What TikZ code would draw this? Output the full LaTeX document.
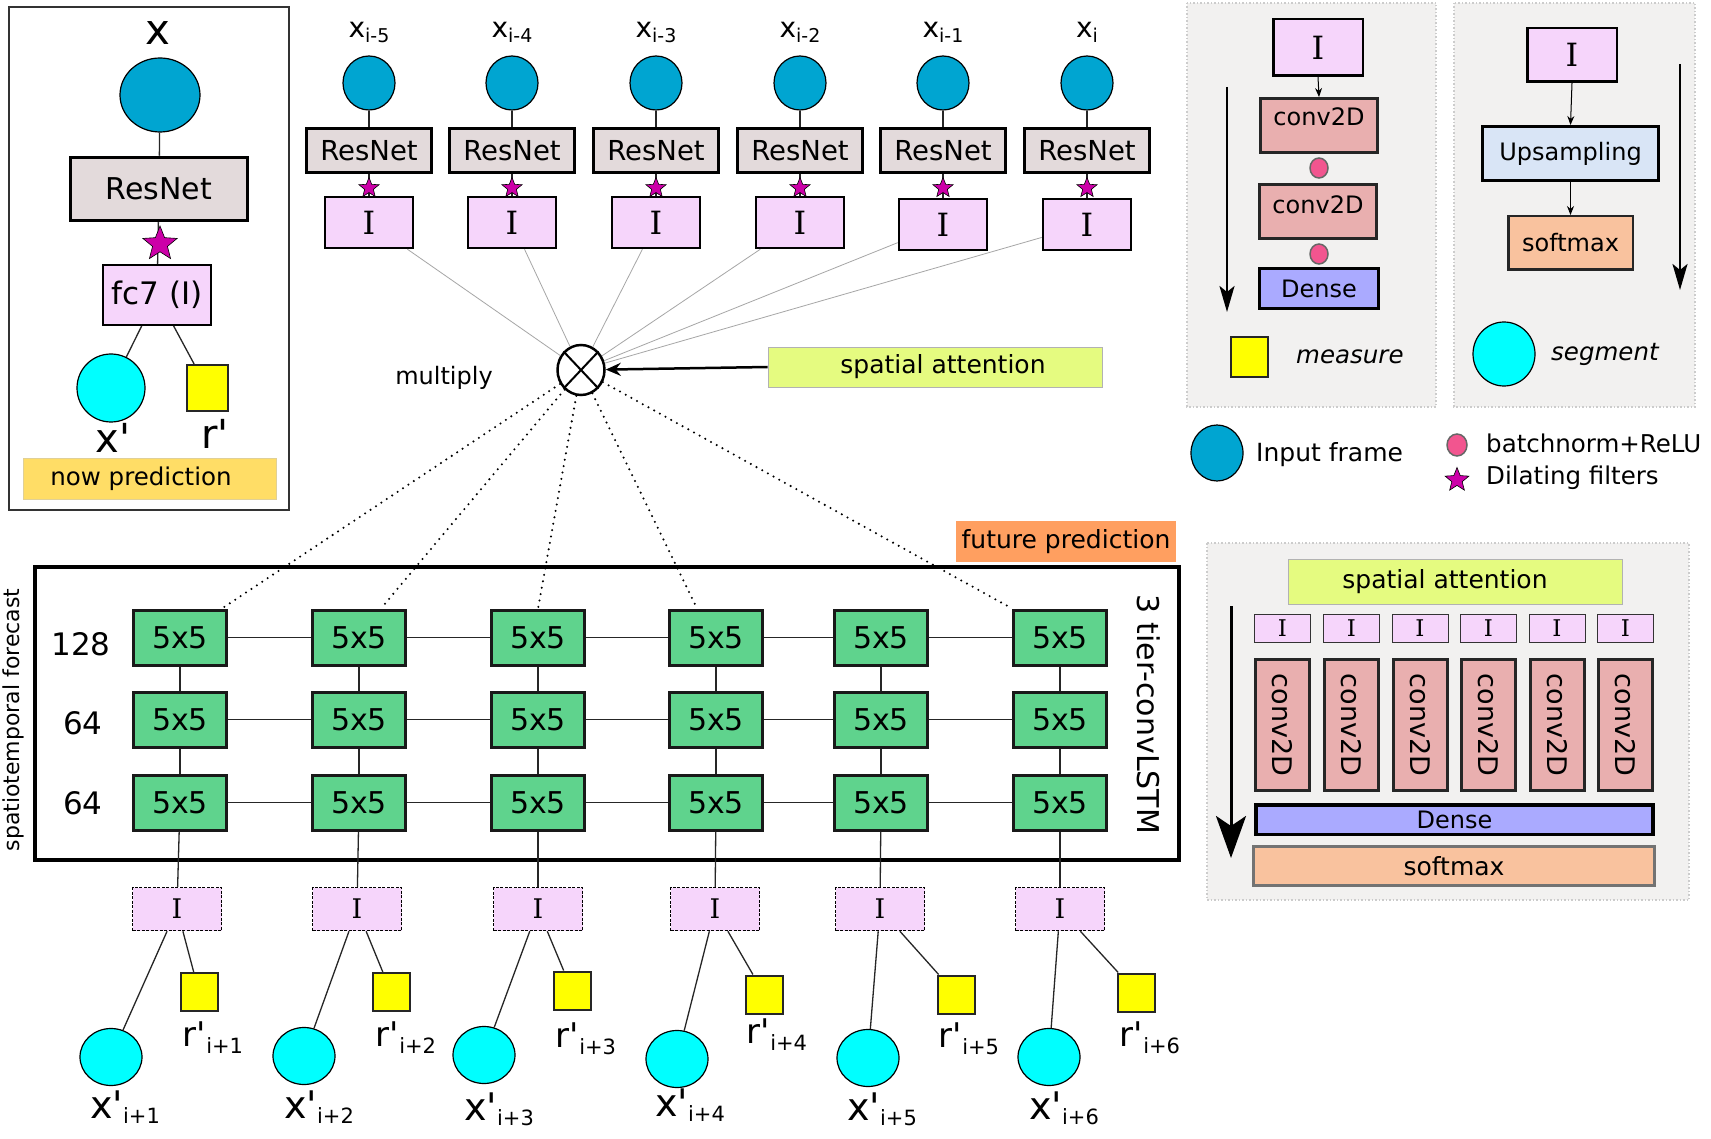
\documentclass[tikz,border=0pt]{standalone}
\usepackage{fontspec}
\newfontfamily\dv{DejaVu Sans}
\newfontfamily\dvs{DejaVu Serif}
\usetikzlibrary{shapes.geometric,arrows.meta,calc}
\newcommand{\fs}[1]{\fontsize{#1}{#1}\selectfont}
\newcommand{\upt}[1]{\raisebox{0pt}[0pt][0pt]{#1}}
\definecolor{inblue}{HTML}{00A5D1}
\definecolor{cyanc}{RGB}{0,255,255}
\definecolor{yellowc}{RGB}{255,255,0}
\definecolor{resgray}{HTML}{E3DADB}
\definecolor{ipink}{HTML}{F6D5FB}
\definecolor{starmag}{HTML}{CC00A8}
\definecolor{nowgold}{HTML}{FFDD66}
\definecolor{sagreen}{HTML}{E5FB80}
\definecolor{futorange}{HTML}{FF9F60}
\definecolor{green5}{HTML}{5FD38D}
\definecolor{convpink}{HTML}{E9AFAF}
\definecolor{densebl}{HTML}{AAAAFF}
\definecolor{upblue}{HTML}{D9E5F6}
\definecolor{softpeach}{HTML}{F9C29E}
\definecolor{dotpink}{HTML}{F2558F}
\definecolor{panelbg}{HTML}{F2F1F0}
\begin{document}
\begin{tikzpicture}[x=1pt,y=-1pt,font=\dv,
  inframe/.style={ellipse,draw=black,line width=1.2pt,fill=inblue,minimum width=52pt,minimum height=54pt,inner sep=0},
  resnet/.style={draw=black,line width=3pt,fill=resgray,minimum width=125pt,minimum height=44pt,inner sep=0,font=\dv\fs{27.5}},
  ibox/.style={draw=black,line width=2.5pt,fill=ipink,minimum width=88pt,minimum height=51pt,inner sep=0,font=\dvs\fs{32}},
  starn/.style={star,star points=5,star point ratio=2.3,fill=starmag,draw=black,line width=0.6pt,minimum size=21pt,inner sep=0},
  grn/.style={draw=black!90,line width=3pt,fill=green5,minimum width=93pt,minimum height=55pt,inner sep=0,font=\dv\fs{30}},
  dI/.style={draw=black,dash pattern=on 3pt off 1.5pt,line width=1.5pt,fill=ipink,minimum width=89pt,minimum height=43pt,inner sep=0,font=\dvs\fs{27}},
  cyn/.style={ellipse,draw=black,line width=1.2pt,fill=cyanc,minimum width=62pt,minimum height=57pt,inner sep=0},
  ysq/.style={draw=black!85,line width=2pt,fill=yellowc,minimum width=37pt,minimum height=38pt,inner sep=0},
  conn/.style={line width=1.3pt,draw=black!85},
  gline/.style={line width=0.8pt,draw=black!35},
  dotline/.style={line width=2.3pt,dash pattern=on 0pt off 6.5pt,line cap=round},
  toplab/.style={anchor=base,inner sep=0,font=\dv\fs{28}},
  botlab/.style={anchor=base,inner sep=0,font=\dv\fs{38}},
  panel/.style={fill=panelbg,draw=black!20,line width=1.5pt,dotted},
  conv/.style={draw=black!85,line width=3pt,fill=convpink,inner sep=0,font=\dv\fs{24}},
  dense/.style={draw=black,line width=3pt,fill=densebl,inner sep=0,font=\dv\fs{24}},
  soft/.style={draw=black!85,line width=2.5pt,fill=softpeach,inner sep=0,font=\dv\fs{24}},
  pdot/.style={ellipse,draw=black!60,line width=1.5pt,fill=dotpink,minimum width=18pt,minimum height=20pt,inner sep=0},
  smallarr/.style={line width=1pt,-{Stealth[length=9pt,width=7pt]}},
  bigarr/.style={line width=2.5pt,-{Stealth[length=26pt,width=15pt,inset=6pt]}},
  legtext/.style={anchor=west,inner sep=0,font=\dv\fs{24.5}}
]
\useasboundingbox (0,0) rectangle (1711,1139);
\fill[white] (0,0) rectangle (1711,1139);

% ---------------- left "now prediction" panel
\draw[line width=1.5pt,draw=black!80] (9,7) rectangle (289,510);
\node[anchor=base,inner sep=0,font=\dv\fs{42}] (bX) at (158,45) {x};
\node[inframe,minimum width=80pt,minimum height=74pt] (bx) at (160,95) {};
\node[resnet,minimum width=177pt,minimum height=63pt,line width=3.5pt,font=\dv\fs{30}] (brn) at (159,189) {ResNet};
\node[draw=black,line width=2pt,fill=ipink,minimum width=108pt,minimum height=60pt,inner sep=0,font=\dv\fs{31}] (bfc) at (157,295) {fc7 (I)};
\node[cyn,minimum width=68pt,minimum height=68pt] (bcy) at (111,388) {};
\node[ysq,minimum width=41pt,minimum height=46pt] (bsq) at (207,388) {};
\draw[conn] (bx) -- (brn);
\draw[conn] (brn) -- (bfc);
\draw[conn] (bfc) -- (bcy);
\draw[conn] (bfc) -- (bsq);
\node[starn,minimum size=36pt] (bst) at (160,244) {};
\node[botlab,font=\dv\fs{40}] (bxl) at (113,453) {x'};
\node[botlab,font=\dv\fs{40}] (brl) at (215,448) {r'};
\node[fill=nowgold,draw=nowgold!80!black!60,line width=0.6pt,minimum width=253pt,minimum height=41pt,inner sep=0] (now) at (149.5,478.5) {};
\node[inner sep=0,font=\dv\fs{24.5}] (nowt) at (141,479) {now prediction};

% ---------------- top row of input frames
\foreach \i/\c/\iy/\s in {1/369/222.5/i-5,2/512/222.5/i-4,3/656/222.5/i-3,4/800/222.5/i-2,5/943/224.5/i-1,6/1087/224.5/i}{
  \node[toplab] (xl\i) at (\c,38) {x\raisebox{-5pt}{\fs{19}\s}};
  \node[inframe] (xc\i) at (\c,83) {};
  \node[resnet] (rn\i) at (\c,150.5) {ResNet};
  \node[ibox] (ti\i) at (\c,\iy) {I};
  \draw[conn] (xc\i) -- (rn\i);
  \draw[conn] (rn\i) -- (ti\i);
  \node[starn] (st\i) at (\c,188) {};
}

% ---------------- multiply and spatial attention
\node[ellipse,draw=black,line width=2.5pt,fill=white,minimum width=47pt,minimum height=50pt,inner sep=0] (mul) at (581,370) {};
\draw[line width=2pt] (mul.north west) -- (mul.south east);
\draw[line width=2pt] (mul.north east) -- (mul.south west);
\foreach \i in {1,...,6}{ \draw[gline] (ti\i) -- (mul); }
\node[inner sep=0,font=\dv\fs{24}] (mlab) at (444,378) {multiply};
\node[fill=sagreen,draw=black!30,line width=0.8pt,minimum width=334pt,minimum height=40pt,inner sep=0,font=\dv\fs{25}] (sa) at (935,367) {\kern16pt spatial attention};
\draw[line width=2.5pt,-{Stealth[length=15pt,width=13pt,inset=5pt]}] (sa.west) -- (mul);

% ---------------- convLSTM block
\node[fill=futorange,minimum width=220pt,minimum height=41pt,inner sep=0,font=\dv\fs{25}] (fut) at (1066,541.5) {future prediction};
\node[draw=black,line width=4pt,minimum width=1144pt,minimum height=293pt,inner sep=0] (lstm) at (607,713.5) {};
\node[rotate=90,inner sep=0,font=\dv\fs{22}] (stf) at (13,720) {spatiotemporal forecast};
\node[rotate=-90,inner sep=0,font=\dv\fs{30}] (tier) at (1149,714) {3 tier-convLSTM};
\node[inner sep=0,font=\dv\fs{31}] (n128) at (81,644) {128};
\node[inner sep=0,font=\dv\fs{31}] (n64a) at (83,723) {64};
\node[inner sep=0,font=\dv\fs{31}] (n64b) at (83,803) {64};

\foreach \k/\x in {1/180,2/359,3/538,4/716,5/881,6/1060}{
  \foreach \r/\y in {1/637.5,2/719.5,3/802.5}{
    \node[grn] (g\r\k) at (\x,\y) {5x5};
  }
}
\foreach \r in {1,2,3}{
  \foreach \k/\n in {1/2,2/3,3/4,4/5,5/6}{ \draw[conn] (g\r\k) -- (g\r\n); }
}
\foreach \k in {1,...,6}{
  \draw[conn] (g1\k) -- (g2\k);
  \draw[conn] (g2\k) -- (g3\k);
}

% dotted attention links
\draw[dotline] (mul) -- ([xshift=-6pt]g11.north east);
\draw[dotline] (mul) -- ([xshift=22pt]g12.north);
\draw[dotline] (mul) -- (g13.north);
\draw[dotline] (mul) -- ([xshift=-19pt]g14.north);
\draw[dotline] (mul) -- (g16.north west);

% ---------------- future outputs
\foreach \k/\dx/\sx/\sy/\cx/\cy/\rx/\rb/\xx/\xb/\s in {
  1/177/199/992/111/1057/213/1046/125/1118/i+1,
  2/357/391/992/304/1056/406/1046/319/1118/i+2,
  3/538/572/990.5/484/1055/586/1047/499/1120/i+3,
  4/715/764.5/994.5/677/1059/777/1043/690/1116/i+4,
  5/880/956.5/994.5/868/1058/969/1047/882/1120/i+5,
  6/1060/1136.5/992.5/1049/1057/1150/1046/1064/1119/i+6}{
  \node[dI] (d\k) at (\dx,909) {I};
  \node[ysq] (r\k) at (\sx,\sy) {};
  \node[cyn] (xp\k) at (\cx,\cy) {};
  \draw[conn] (g3\k) -- (d\k);
  \draw[conn] (d\k) -- (xp\k);
  \draw[conn] (d\k) -- (r\k);
  \node[botlab,font=\dv\fs{34}] (rl\k) at (\rx,\rb) {r'\raisebox{-7pt}{\fs{21}\s}};
  \node[botlab] (xpl\k) at (\xx,\xb) {x'\raisebox{-5pt}{\fs{21}\s}};
}

% ---------------- measure panel
\draw[panel] (1187,3) rectangle (1436,407);
\node[ibox,minimum width=89.5pt,minimum height=56.5pt,font=\dvs\fs{32}] (mI) at (1318,47.5) {I};
\node[conv,minimum width=117pt,minimum height=54pt] (mc1) at (1319,125.5) {\upt{conv2D}};
\node[pdot] (md1) at (1319,168) {};
\node[conv,minimum width=117pt,minimum height=54pt] (mc2) at (1318,211.5) {\raisebox{-2pt}[0pt][0pt]{conv2D}};
\node[pdot] (md2) at (1319,254) {};
\node[dense,minimum width=119pt,minimum height=40pt] (mde) at (1319,288.5) {Dense};
\draw[smallarr] (mI.south) -- (mc1.north);
\coordinate (ma1) at (1227,87);
\coordinate (ma2) at (1227,312);
\draw[bigarr] (ma1) -- (ma2);
\node[ysq,minimum width=37pt,minimum height=40pt] (msq) at (1249.5,357) {};
\node[legtext,font=\dv\itshape\fs{24.5}] (mtx) at (1296,357) {measure};

% ---------------- segment panel
\draw[panel] (1454,3) rectangle (1695,407);
\node[ibox,minimum width=89.5pt,minimum height=53.5pt,font=\dvs\fs{32}] (sI) at (1572,55) {I};
\node[draw=black,line width=3pt,fill=upblue,minimum width=176pt,minimum height=54pt,inner sep=0,font=\dv\fs{24}] (sup) at (1570.5,153.5) {Upsampling};
\node[soft,minimum width=124.5pt,minimum height=53.5pt] (ssm) at (1570.5,243) {softmax};
\draw[smallarr] (sI.south) -- (sup.north);
\draw[smallarr] (sup.south) -- (ssm.north);
\coordinate (sa1) at (1680,64);
\coordinate (sa2) at (1680,290);
\draw[bigarr] (sa1) -- (sa2);
\node[cyn,minimum width=62pt,minimum height=64pt] (scy) at (1504,354) {};
\node[legtext,font=\dv\itshape\fs{24.5}] (stx) at (1551,354) {segment};

% ---------------- legend
\node[inframe,minimum width=52pt,minimum height=56pt] (lin) at (1217,453) {};
\node[legtext,font=\dv\fs{25}] (lint) at (1256,455) {Input frame};
\node[pdot,minimum width=20pt,minimum height=22pt] (ldot) at (1457,445) {};
\node[legtext] (ldott) at (1486,443) {batchnorm+ReLU};
\node[starn,minimum size=25pt] (lst) at (1457,480) {};
\node[legtext] (lstt) at (1486,478) {Dilating filters};

% ---------------- spatial attention panel
\draw[panel] (1207,543) rectangle (1689,900);
\node[fill=sagreen,draw=black!30,line width=0.8pt,minimum width=334pt,minimum height=45pt,inner sep=0,font=\dv\fs{25}] (sa2n) at (1455,581.5) {\kern-20pt spatial attention};
\foreach \k/\x in {1/1282.5,2/1351.5,3/1420,4/1488.5,5/1557,6/1625.5}{
  \node[draw=black!80,line width=1pt,fill=ipink,minimum width=56pt,minimum height=28pt,inner sep=0,font=\dvs\fs{23}] (si\k) at (\x,628.5) {I};
  \node[conv,rotate=-90,minimum width=131pt,minimum height=54pt,font=\dv\fs{27}] (cv\k) at (\x,725) {conv2D};
}
\node[dense,line width=3.5pt,minimum width=397pt,minimum height=29.5pt] (de2) at (1454.5,819.5) {Dense};
\node[soft,draw=black!55,line width=3pt,minimum width=401pt,minimum height=39pt,font=\dv\fs{25}] (sm2) at (1454,866) {softmax};
\coordinate (ba1) at (1231,606);
\coordinate (ba2) at (1231,858);
\draw[line width=3pt,-{Stealth[length=42pt,width=30pt,inset=10pt]}] (ba1) -- (ba2);
\end{tikzpicture}
\end{document}
